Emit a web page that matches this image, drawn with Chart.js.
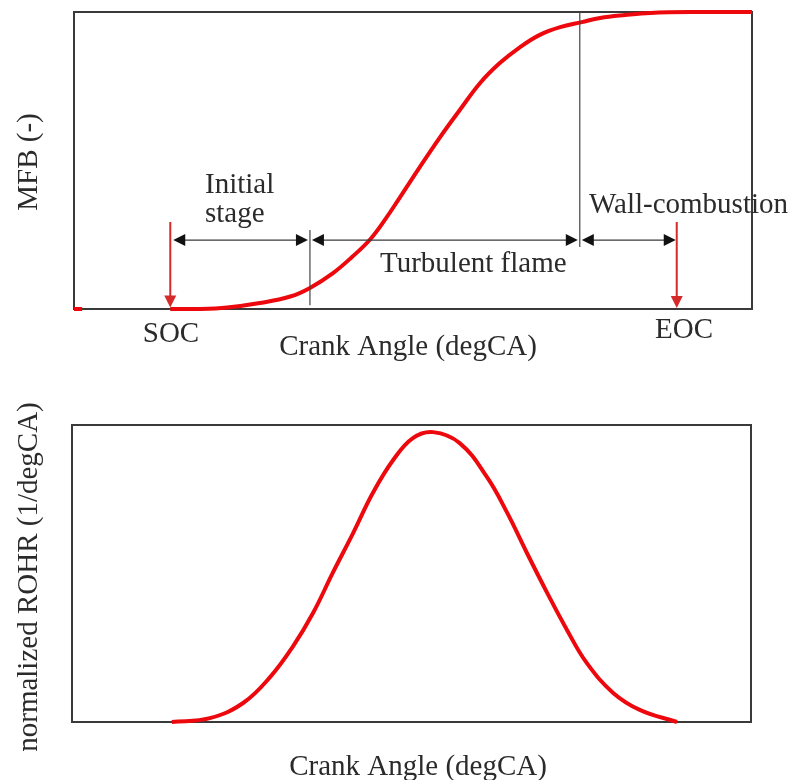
<!DOCTYPE html>
<html>
<head>
<meta charset="utf-8">
<script src="https://cdn.jsdelivr.net/npm/chart.js@4"></script>
<style>
  body { margin: 0; background: #fff; }
  canvas { position: absolute; left: 0; }
  #mfbChart { top: 0; }
  #rohrChart { top: 380px; }
</style>
</head>
<body>
<canvas id="mfbChart" width="792" height="380"></canvas>
<canvas id="rohrChart" width="792" height="400"></canvas>
<script>
// mass fraction burned (top)
const mfbAngle = [14.2, 18.6, 22.6, 27.4, 31.9, 34.8, 38.2, 41.0, 43.7, 46.0, 48.1, 51.0, 54.0, 56.9, 59.9, 62.8, 65.8, 68.7, 71.7, 74.9, 77.6, 81.3, 85.0, 92.3, 100];
const mfbValue = [0, 0, 0.005, 0.02, 0.042, 0.071, 0.121, 0.175, 0.235, 0.305, 0.377, 0.478, 0.579, 0.670, 0.761, 0.828, 0.882, 0.923, 0.949, 0.966, 0.980, 0.990, 0.997, 1.0, 1.0];

// normalized rate of heat release (bottom)
const rohrAngle = [14.7, 20.3, 25.2, 29.2, 32.5, 35.5, 38.4, 41.4, 44.3, 47.3, 50.2, 53.2, 57.1, 61.1, 64.1, 67.0, 70.0, 72.9, 75.8, 79.7, 83.7, 89.1];
const rohrValue = [0, 0.013, 0.064, 0.152, 0.253, 0.367, 0.502, 0.636, 0.771, 0.882, 0.956, 0.976, 0.939, 0.825, 0.704, 0.569, 0.434, 0.310, 0.199, 0.098, 0.040, 0];

// phase markers (crank angle units of the x axis)
const socAngle = 14.2;
const initialEnd = 34.8;
const turbulentEnd = 74.6;
const eocAngle = 88.9;
const phaseLevel = 0.232;

const RED = 'rgb(236, 8, 12)';
const INK = '#2b2b2b';
const FONT = '29px "Liberation Serif", "DejaVu Serif", serif';

const toPoints = (xs, ys) => xs.map((x, i) => ({ x, y: ys[i] }));

function drawFrame(chart) {
  const { ctx, chartArea: a } = chart;
  ctx.save();
  ctx.strokeStyle = '#3a3a3a';
  ctx.lineWidth = 2;
  ctx.strokeRect(a.left, a.top, a.right - a.left, a.bottom - a.top);
  ctx.restore();
}

function arrowHead(ctx, x, y, dir, color) {
  // dir: 'left' | 'right' | 'down'
  const len = 12, half = 6;
  ctx.fillStyle = color;
  ctx.beginPath();
  if (dir === 'left') {
    ctx.moveTo(x, y); ctx.lineTo(x + len, y - half); ctx.lineTo(x + len, y + half);
  } else if (dir === 'right') {
    ctx.moveTo(x, y); ctx.lineTo(x - len, y - half); ctx.lineTo(x - len, y + half);
  } else {
    ctx.moveTo(x, y); ctx.lineTo(x - half, y - len); ctx.lineTo(x + half, y - len);
  }
  ctx.closePath();
  ctx.fill();
}

function spanArrow(ctx, x1, x2, y) {
  ctx.strokeStyle = '#3a3a3a';
  ctx.lineWidth = 1.2;
  ctx.beginPath();
  ctx.moveTo(x1 + 4, y);
  ctx.lineTo(x2 - 4, y);
  ctx.stroke();
  arrowHead(ctx, x1 + 1, y, 'left', '#111');
  arrowHead(ctx, x2 - 1, y, 'right', '#111');
}

function downArrow(ctx, x, yTop, yBot) {
  ctx.strokeStyle = '#d42a2a';
  ctx.lineWidth = 2;
  ctx.beginPath();
  ctx.moveTo(x, yTop);
  ctx.lineTo(x, yBot - 10);
  ctx.stroke();
  arrowHead(ctx, x, yBot, 'down', '#d42a2a');
}

function verticalText(ctx, text, x, y) {
  ctx.save();
  ctx.translate(x, y);
  ctx.rotate(-Math.PI / 2);
  ctx.textAlign = 'center';
  ctx.fillText(text, 0, 0);
  ctx.restore();
}

const framePlugin = {
  id: 'frame',
  beforeDatasetsDraw(chart) { drawFrame(chart); }
};

const mfbAnnotations = {
  id: 'mfbAnnotations',
  afterDatasetsDraw(chart) {
    const { ctx, scales: { x, y }, chartArea: a } = chart;
    const px = v => x.getPixelForValue(v);
    const py = v => y.getPixelForValue(v);
    ctx.save();

    // phase boundaries
    ctx.strokeStyle = '#444';
    ctx.lineWidth = 1.2;
    ctx.beginPath();
    ctx.moveTo(px(initialEnd), py(0.266));
    ctx.lineTo(px(initialEnd), py(0.013));
    ctx.moveTo(px(turbulentEnd), a.top);
    ctx.lineTo(px(turbulentEnd), py(0.209));
    ctx.stroke();

    const yLevel = py(phaseLevel);
    spanArrow(ctx, px(socAngle) + 2, px(initialEnd) - 1, yLevel);
    spanArrow(ctx, px(initialEnd) + 1, px(turbulentEnd) - 1, yLevel);
    spanArrow(ctx, px(turbulentEnd) + 1, px(eocAngle), yLevel);

    downArrow(ctx, px(socAngle), py(0.293), py(0.005));
    downArrow(ctx, px(eocAngle), py(0.293), py(0.003));

    ctx.fillStyle = INK;
    ctx.font = FONT;
    ctx.textAlign = 'left';
    ctx.fillText('Initial', 205, 193);
    ctx.fillText('stage', 205, 222);
    ctx.fillText('Turbulent flame', 380, 272);
    ctx.fillText('Wall-combustion', 589, 213);
    ctx.textAlign = 'center';
    ctx.fillText('SOC', 171, 342);
    ctx.fillText('EOC', 684, 338);
    ctx.fillText('Crank Angle (degCA)', 408, 355);
    verticalText(ctx, 'MFB (-)', 37, 162);
    ctx.restore();
  }
};

const rohrLabels = {
  id: 'rohrLabels',
  afterDatasetsDraw(chart) {
    const { ctx } = chart;
    ctx.save();
    ctx.fillStyle = INK;
    ctx.font = FONT;
    ctx.textAlign = 'center';
    // canvas sits 380px lower than the page
    ctx.fillText('Crank Angle (degCA)', 418, 775 - 380);
    verticalText(ctx, 'normalized ROHR (1/degCA)', 37, 577 - 380);
    ctx.restore();
  }
};

function baseOptions(padding) {
  return {
    responsive: false,
    animation: false,
    devicePixelRatio: 1,
    layout: { padding },
    plugins: { legend: { display: false }, tooltip: { enabled: false } },
    scales: {
      x: { type: 'linear', min: 0, max: 100, display: false },
      y: { type: 'linear', min: 0, max: 1, display: false }
    }
  };
}

const curveStyle = {
  borderColor: RED,
  borderWidth: 4,
  pointRadius: 0,
  fill: false,
  tension: 0.4,
  clip: false
};

new Chart(document.getElementById('mfbChart'), {
  type: 'line',
  data: {
    datasets: [
      { ...curveStyle, data: toPoints(mfbAngle, mfbValue) },
      { ...curveStyle, data: toPoints([0, 1.2], [0, 0]) }
    ]
  },
  options: baseOptions({ left: 74, top: 12, right: 40, bottom: 71 }),
  plugins: [framePlugin, mfbAnnotations]
});

new Chart(document.getElementById('rohrChart'), {
  type: 'line',
  data: {
    datasets: [
      { ...curveStyle, data: toPoints(rohrAngle, rohrValue) }
    ]
  },
  options: baseOptions({ left: 72, top: 45, right: 41, bottom: 58 }),
  plugins: [framePlugin, rohrLabels]
});
</script>
</body>
</html>
